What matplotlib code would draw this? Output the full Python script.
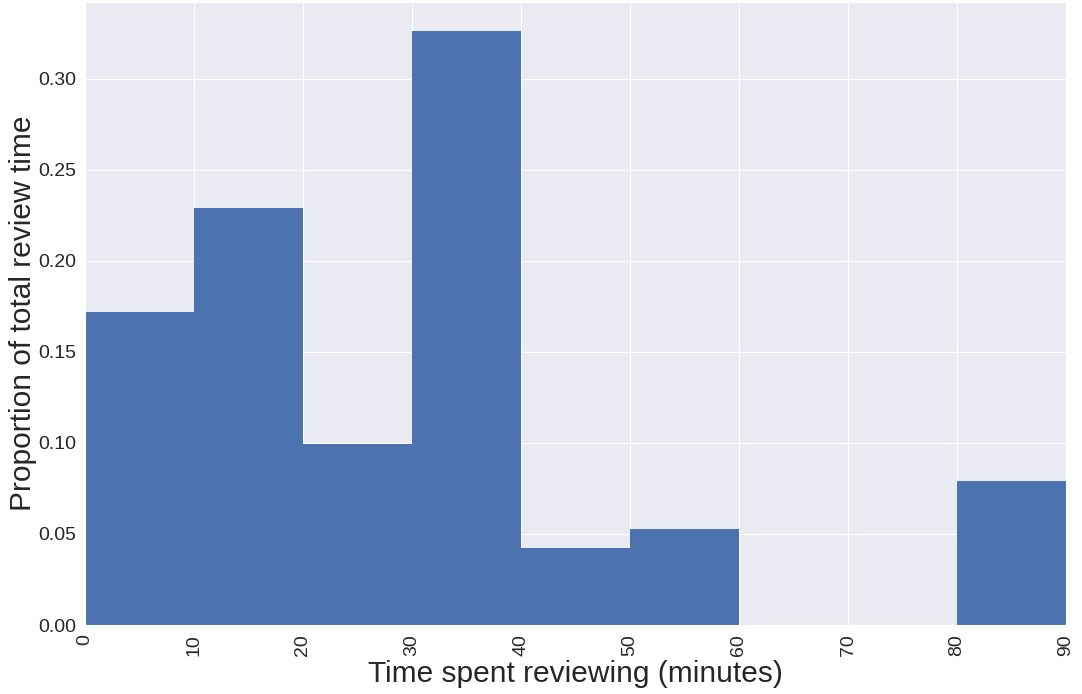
import matplotlib
matplotlib.use("Agg")
import matplotlib.pyplot as plt
import seaborn as sns

# histogram bins (minutes) and proportion of total review time per bin
bin_edges = [0, 10, 20, 30, 40, 50, 60, 70, 80, 90]
proportions = [0.172, 0.229, 0.0995, 0.326, 0.0425, 0.0528, 0.0, 0.0, 0.0792]
x_ticks = [0, 10, 20, 30, 40, 50, 60, 70, 80, 90]

sns.set_style("darkgrid")
plt.rcParams['font.family'] = ['Liberation Sans', 'DejaVu Sans']

fig = plt.figure(figsize=(10.82, 6.94), dpi=100)
ax = fig.add_axes([85 / 1082, 1 - 625 / 694, (1066 - 85) / 1082, (625 - 2) / 694])

ax.hist(bin_edges[:-1], bins=bin_edges, weights=proportions,
        color="#4C72B0", linewidth=0)

ax.set_xlim(0, 90)
ax.set_ylim(0, 0.342)
ax.set_xticks(x_ticks)
ax.set_xticklabels([str(t) for t in x_ticks], rotation=90)
ax.set_yticks([0, 0.05, 0.10, 0.15, 0.20, 0.25, 0.30])
ax.set_yticklabels(["0.00", "0.05", "0.10", "0.15", "0.20", "0.25", "0.30"])
ax.tick_params(labelsize=14, colors="#262626", pad=3)
ax.set_xlabel("Time spent reviewing (minutes)", fontsize=21.5, color="#262626", labelpad=3)
ax.set_ylabel("Proportion of total review time", fontsize=21.5, color="#262626", labelpad=1)

fig.savefig("out.png", dpi=100)
